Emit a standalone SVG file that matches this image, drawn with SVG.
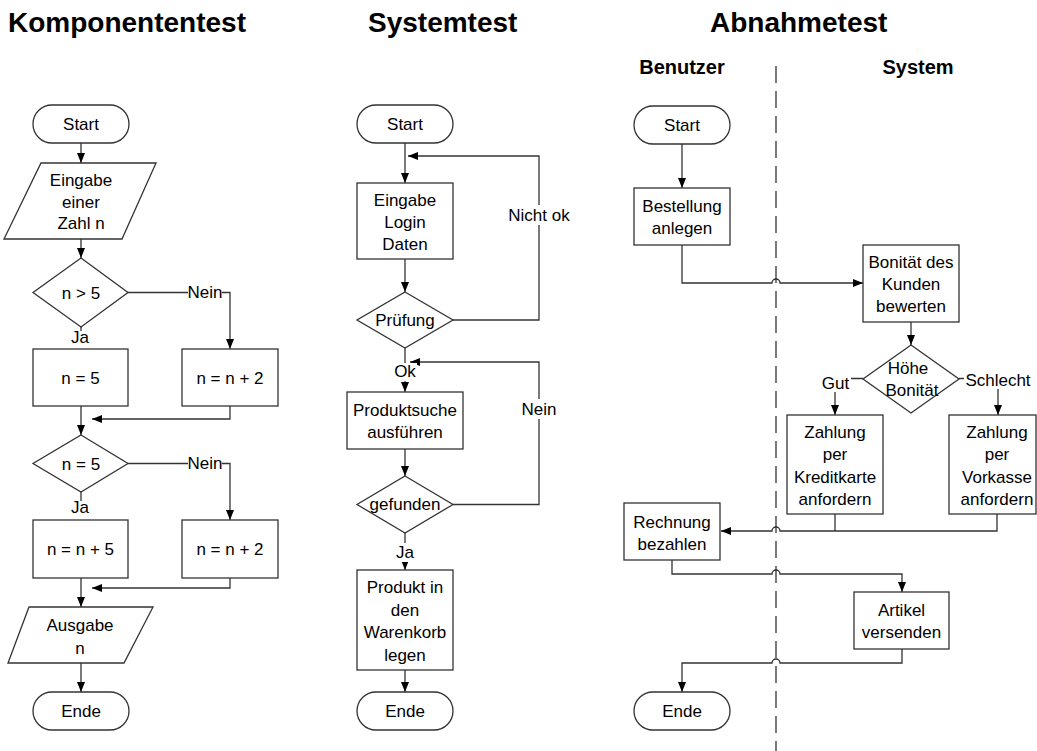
<svg xmlns="http://www.w3.org/2000/svg" width="1037" height="751" viewBox="0 0 1037 751">
  <style>
    .n { fill: #fff; stroke: #333; stroke-width: 1.3; }
    .c { fill: none; stroke: #333; stroke-width: 1.3; }
    .lane { fill: none; stroke: #333; stroke-width: 1.3; stroke-dasharray: 17 8; }
    .bg { fill: #fff; }
    text { font-family: "Liberation Sans", Arial, sans-serif; font-size: 17px; fill: #000; text-anchor: middle; }
    .title { font-size: 28px; font-weight: bold; text-anchor: start; }
    .head { font-size: 20px; font-weight: bold; }
  </style>
  <defs>
    <marker id="ah" markerWidth="10" markerHeight="8" refX="10" refY="4" orient="auto" markerUnits="userSpaceOnUse">
      <path d="M0,0 L10,4 L0,8 z" fill="#000"/>
    </marker>
  </defs>
  <rect width="1037" height="751" fill="#fff"/>

  <!-- column titles -->
  <g id="titles">
    <text class="title" x="8" y="32">Komponententest</text>
    <text class="title" x="368" y="32">Systemtest</text>
    <text class="title" x="710" y="32">Abnahmetest</text>
    <text class="head" x="682" y="74">Benutzer</text>
    <text class="head" x="918" y="74">System</text>
  </g>

  <!-- swimlane divider -->
  <line class="lane" x1="776" y1="66" x2="776" y2="751"/>

  <!-- connectors -->
  <g id="connectors">
    <!-- Komponententest -->
    <path class="c" d="M81,143 V163" marker-end="url(#ah)"/>
    <path class="c" d="M81,239 V258" marker-end="url(#ah)"/>
    <path class="c" d="M128,292.5 H230 V349" marker-end="url(#ah)"/>
    <path class="c" d="M81,327 V349" marker-end="url(#ah)"/>
    <path class="c" d="M230,406 V419 H92" marker-end="url(#ah)"/>
    <path class="c" d="M81,406 V435" marker-end="url(#ah)"/>
    <path class="c" d="M128,463.5 H230 V520" marker-end="url(#ah)"/>
    <path class="c" d="M81,492 V520" marker-end="url(#ah)"/>
    <path class="c" d="M230,578 V588 H92" marker-end="url(#ah)"/>
    <path class="c" d="M81,578 V607" marker-end="url(#ah)"/>
    <path class="c" d="M81,663 V692" marker-end="url(#ah)"/>

    <!-- Systemtest -->
    <path class="c" d="M405,143 V183" marker-end="url(#ah)"/>
    <path class="c" d="M453,320 H539 V156 H408" marker-end="url(#ah)"/>
    <path class="c" d="M405,259 V292" marker-end="url(#ah)"/>
    <path class="c" d="M405,348 V392" marker-end="url(#ah)"/>
    <path class="c" d="M405,449 V476" marker-end="url(#ah)"/>
    <path class="c" d="M453,504.5 H539 V362 H410" marker-end="url(#ah)"/>
    <path class="c" d="M405,533 V570" marker-end="url(#ah)"/>
    <path class="c" d="M405,670 V692" marker-end="url(#ah)"/>

    <!-- Abnahmetest (line hops where the lane divider is crossed) -->
    <path class="c" d="M682,144 V188" marker-end="url(#ah)"/>
    <path class="c" d="M682,245 V283 H772 a4,4 0 0 1 8,0 H863" marker-end="url(#ah)"/>
    <path class="c" d="M911,322 V345" marker-end="url(#ah)"/>
    <path class="c" d="M863,378.5 H835 V415" marker-end="url(#ah)"/>
    <path class="c" d="M959,378.5 H998 V415" marker-end="url(#ah)"/>
    <path class="c" d="M835,514 V531"/>
    <path class="c" d="M997,514 V531 H780 a4,4 0 0 0 -8,0 H721" marker-end="url(#ah)"/>
    <path class="c" d="M672,560 V574 H772 a4,4 0 0 1 8,0 H902 V592" marker-end="url(#ah)"/>
    <path class="c" d="M902,649 V663 H780 a4,4 0 0 0 -8,0 H682 V692" marker-end="url(#ah)"/>

    <!-- connector labels -->
    <rect class="bg" x="188" y="283" width="34" height="19"/>
    <text x="205" y="298">Nein</text>
    <rect class="bg" x="71" y="331" width="19" height="19"/>
    <text x="80" y="343">Ja</text>
    <rect class="bg" x="188" y="454" width="34" height="19"/>
    <text x="205" y="469">Nein</text>
    <rect class="bg" x="71" y="501" width="19" height="19"/>
    <text x="80" y="513">Ja</text>

    <rect class="bg" x="506" y="205" width="66" height="20"/>
    <text x="539" y="221">Nicht ok</text>
    <rect class="bg" x="393" y="363" width="24" height="18"/>
    <text x="405" y="377">Ok</text>
    <rect class="bg" x="521" y="399" width="36" height="20"/>
    <text x="539" y="415">Nein</text>
    <rect class="bg" x="396" y="543" width="19" height="19"/>
    <text x="405" y="558">Ja</text>

    <rect class="bg" x="820" y="373" width="31" height="19"/>
    <text x="835.5" y="389">Gut</text>
    <rect class="bg" x="964" y="370" width="68" height="19"/>
    <text x="998" y="386">Schlecht</text>
  </g>

  <!-- Komponententest nodes -->
  <g id="k-start"><rect class="n" x="33" y="105" width="96" height="38" rx="19"/><text x="81" y="130">Start</text></g>
  <g id="k-eingabe">
    <polygon class="n" points="41,163 156,163 122,239 4,239"/>
    <text x="81" y="186">Eingabe</text><text x="81" y="208">einer</text><text x="81" y="229">Zahl n</text>
  </g>
  <g id="k-dec1"><polygon class="n" points="81,258 128,292.5 81,327 33,292.5"/><text x="81" y="298.5">n &gt; 5</text></g>
  <g id="k-set5"><rect class="n" x="33" y="349" width="95" height="57"/><text x="80.5" y="383.5">n = 5</text></g>
  <g id="k-add2a"><rect class="n" x="182" y="349" width="96" height="57"/><text x="230" y="383.5">n = n + 2</text></g>
  <g id="k-dec2"><polygon class="n" points="81,435 128,463.5 81,492 33,463.5"/><text x="81" y="469.5">n = 5</text></g>
  <g id="k-add5"><rect class="n" x="33" y="520" width="95" height="58"/><text x="80.5" y="555">n = n + 5</text></g>
  <g id="k-add2b"><rect class="n" x="182" y="520" width="96" height="58"/><text x="230" y="555">n = n + 2</text></g>
  <g id="k-ausgabe">
    <polygon class="n" points="29,607 153,607 124,663 8,663"/>
    <text x="80" y="631">Ausgabe</text><text x="80" y="654">n</text>
  </g>
  <g id="k-ende"><rect class="n" x="33" y="692" width="96" height="38" rx="19"/><text x="81" y="717">Ende</text></g>

  <!-- Systemtest nodes -->
  <g id="s-start"><rect class="n" x="357" y="105" width="96" height="38" rx="19"/><text x="405" y="130">Start</text></g>
  <g id="s-login">
    <rect class="n" x="357" y="183" width="96" height="76"/>
    <text x="405" y="206">Eingabe</text><text x="405" y="228">Login</text><text x="405" y="250">Daten</text>
  </g>
  <g id="s-pruefung"><polygon class="n" points="405,292 453,320 405,348 357,320"/><text x="405" y="326">Prüfung</text></g>
  <g id="s-suche">
    <rect class="n" x="347" y="392" width="116" height="57"/>
    <text x="405" y="416">Produktsuche</text><text x="405" y="438">ausführen</text>
  </g>
  <g id="s-gefunden"><polygon class="n" points="405,476 453,504.5 405,533 357,504.5"/><text x="405" y="510">gefunden</text></g>
  <g id="s-warenkorb">
    <rect class="n" x="357" y="570" width="96" height="100"/>
    <text x="405" y="593">Produkt in</text><text x="405" y="616">den</text><text x="405" y="638">Warenkorb</text><text x="405" y="661">legen</text>
  </g>
  <g id="s-ende"><rect class="n" x="357" y="692" width="96" height="38" rx="19"/><text x="405" y="717">Ende</text></g>

  <!-- Abnahmetest nodes -->
  <g id="a-start"><rect class="n" x="634" y="106" width="96" height="38" rx="19"/><text x="682" y="131">Start</text></g>
  <g id="a-bestellung">
    <rect class="n" x="634" y="188" width="96" height="57"/>
    <text x="682" y="212">Bestellung</text><text x="682" y="234">anlegen</text>
  </g>
  <g id="a-bonitaet">
    <rect class="n" x="863" y="245" width="96" height="77"/>
    <text x="911" y="268">Bonität des</text><text x="911" y="290">Kunden</text><text x="911" y="312">bewerten</text>
  </g>
  <g id="a-hoehe">
    <polygon class="n" points="911,345 959,379 911,413 863,379"/>
    <text x="908" y="374">Höhe</text><text x="912" y="396">Bonität</text>
  </g>
  <g id="a-kreditkarte">
    <rect class="n" x="787" y="415" width="96" height="99"/>
    <text x="835" y="438">Zahlung</text><text x="835" y="460">per</text><text x="835" y="483">Kreditkarte</text><text x="835" y="505">anfordern</text>
  </g>
  <g id="a-vorkasse">
    <rect class="n" x="949" y="415" width="87" height="99"/>
    <text x="997" y="438">Zahlung</text><text x="997" y="460">per</text><text x="997" y="483">Vorkasse</text><text x="997" y="505">anfordern</text>
  </g>
  <g id="a-rechnung">
    <rect class="n" x="624" y="503" width="96" height="57"/>
    <text x="672" y="528">Rechnung</text><text x="672" y="550">bezahlen</text>
  </g>
  <g id="a-artikel">
    <rect class="n" x="854" y="592" width="95" height="57"/>
    <text x="901.5" y="616">Artikel</text><text x="901.5" y="638">versenden</text>
  </g>
  <g id="a-ende"><rect class="n" x="634" y="692" width="96" height="38" rx="19"/><text x="682" y="717">Ende</text></g>
</svg>
